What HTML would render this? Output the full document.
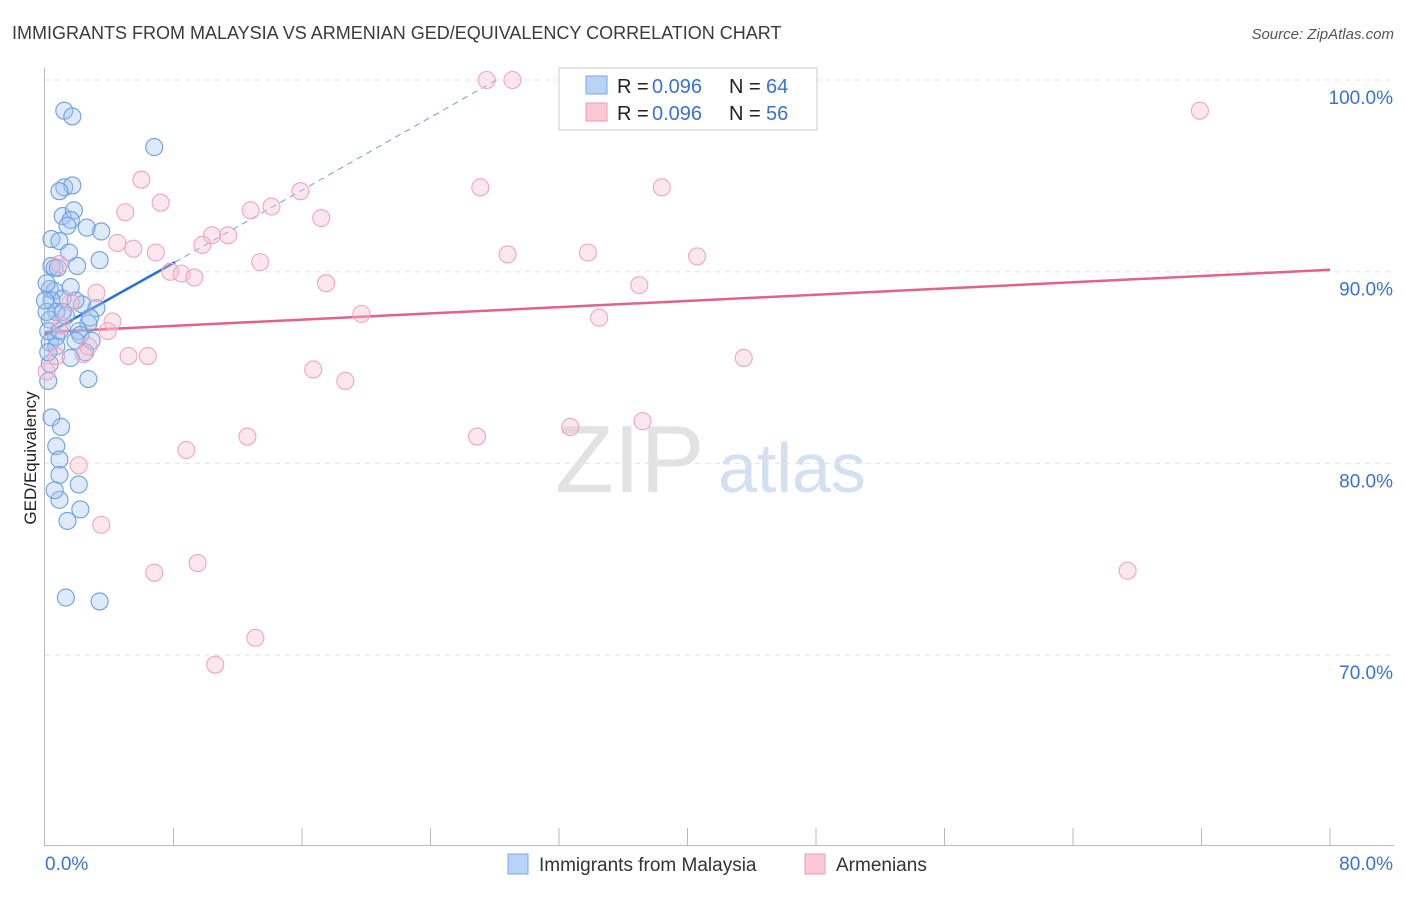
<!DOCTYPE html>
<html><head><meta charset="utf-8">
<style>
body{margin:0;background:#fff;font-family:"Liberation Sans",sans-serif;}
svg text{font-family:"Liberation Sans",sans-serif;}
</style></head>
<body>
<svg id="chart" width="1406" height="892">
<text x="12" y="39" font-size="18" fill="#3a3a3a">IMMIGRANTS FROM MALAYSIA VS ARMENIAN GED/EQUIVALENCY CORRELATION CHART</text>
<text x="1394" y="39" font-size="15" fill="#555" font-style="italic" text-anchor="end">Source: ZipAtlas.com</text>
<text x="36" y="458" font-size="17" fill="#222" text-anchor="middle" transform="rotate(-90 36 458)">GED/Equivalency</text>
<text x="555" y="492" font-size="96" fill="#e2e2e2" font-family="Liberation Serif">ZIP</text>
<text x="718" y="492" font-size="70" fill="#d2e0f2">atlas</text>
<g id="grid"></g><g id="axes"></g><g id="lines"></g><g id="pts"></g>
<g>
<rect x="559" y="68" width="258" height="62" fill="#fff" stroke="#ccc"/>
<rect x="586" y="76" width="21" height="18" fill="#b8d3f5" stroke="#7aa7e6"/>
<rect x="586" y="103" width="21" height="18" fill="#fbc9d6" stroke="#ee9ab0"/>
<text x="617" y="93" font-size="20" fill="#222">R = </text><text x="652" y="93" font-size="20" fill="#3b72d0">0.096</text>
<text x="729" y="93" font-size="20" fill="#222">N = </text><text x="766" y="93" font-size="20" fill="#3b72d0">64</text>
<text x="617" y="120" font-size="20" fill="#222">R = </text><text x="652" y="120" font-size="20" fill="#3b72d0">0.096</text>
<text x="729" y="120" font-size="20" fill="#222">N = </text><text x="766" y="120" font-size="20" fill="#3b72d0">56</text>
</g>
<g>
<rect x="508" y="854" width="20" height="20" fill="#b8d3f5" stroke="#7aa7e6"/>
<text x="539" y="871" font-size="19" fill="#333">Immigrants from Malaysia</text>
<rect x="805" y="854" width="20" height="20" fill="#fbc9d6" stroke="#ee9ab0"/>
<text x="836" y="871" font-size="19" fill="#333">Armenians</text>
</g>
</svg>
<script>
const blueX=[1.2,1.7,6.8,1.2,1.7,0.9,1.1,1.8,1.6,1.4,2.6,3.5,0.4,0.9,1.5,3.4,2.0,0.4,0.6,0.3,0.6,1.1,0.4,2.3,3.2,0.7,1.3,0.3,2.7,2.1,0.7,0.3,2.2,2.9,2.5,1.6,0.3,2.7,0.2,0.4,1.0,0.7,0.9,0.9,0.9,2.1,0.6,2.2,1.4,1.3,3.4,0.2,0.1,0.1,0.9,1.1,1.9,1.6,2.8,0.7,0.2,1.9,0.0,0.8];
const blueY=[98.4,98.1,96.5,94.4,94.5,94.2,92.9,93.2,92.7,92.4,92.3,92.1,91.7,91.6,91.0,90.6,90.3,90.3,90.2,89.1,89.0,88.6,88.5,88.3,88.1,87.9,87.7,87.5,87.3,86.9,86.6,86.3,86.7,86.4,85.8,85.5,85.2,84.4,84.3,82.4,81.9,80.9,80.2,79.4,78.1,78.9,78.6,77.6,77.0,73.0,72.8,86.9,87.9,89.4,86.9,87.9,88.5,89.2,87.6,86.1,85.8,86.4,88.5,90.2];
const pinkX=[27.5,29.1,71.9,6.0,27.1,38.4,7.2,15.9,5.0,12.8,14.1,17.2,11.4,10.4,4.5,5.5,9.8,6.9,28.8,33.8,40.6,13.4,0.9,7.8,8.5,9.3,17.5,37.0,3.2,1.6,19.7,34.5,4.2,3.9,1.0,2.7,5.2,6.4,43.5,2.4,16.7,18.7,0.1,0.7,12.6,8.8,26.9,32.7,37.2,2.1,3.5,6.8,9.5,67.4,13.1,10.6];
const pinkY=[100,100,98.4,94.8,94.4,94.4,93.6,94.2,93.1,93.2,93.4,92.8,91.9,91.9,91.5,91.2,91.4,91.0,90.9,91.0,90.8,90.5,90.4,90.0,89.9,89.7,89.4,89.3,88.9,88.4,87.8,87.6,87.4,86.9,87.2,86.1,85.6,85.6,85.5,85.7,84.9,84.3,84.8,85.6,81.4,80.7,81.4,81.9,82.2,79.9,76.8,74.3,74.8,74.4,70.9,69.5];
const blueLine=[[0,86.7],[8.1,90.5]], blueDash=[[8.1,90.5],[28.1,100]];
const pinkLine=[[0,86.85],[80,90.1]];
const yTicks=[100,90,80,70], yLabels=["100.0%","90.0%","80.0%","70.0%"];
const xs=v=>45+v/80*1285, ys=v=>80+(100-v)*19.17;
const NS="http://www.w3.org/2000/svg";
function mk(p,t,a){const e=document.createElementNS(NS,t);for(const k in a)e.setAttribute(k,a[k]);document.getElementById(p).appendChild(e);return e;}
yTicks.forEach((t,i)=>{
 const g=mk('grid','line',{x1:45,x2:1393,y1:ys(t),y2:ys(t),stroke:'#e3e3e3','stroke-dasharray':'5,5'});
 
 
 const l=mk('grid','text',{x:1393,y:ys(t)+24,'font-size':19,fill:'#3b72d0','text-anchor':'end'});
 l.textContent=yLabels[i];
 
 
});
const ax=mk('axes','line',{x1:44.5,x2:44.5,y1:68,y2:846,stroke:'#bbb'});


const bx=mk('axes','line',{x1:44,x2:1394,y1:845.5,y2:845.5,stroke:'#bbb'});


for(let i=1;i<=10;i++){const x=xs(i*8);const t=mk('axes','line',{x1:x,x2:x,y1:828,y2:846,stroke:'#bbb'});
 
 }
[[0,"0.0%",'start',45],[80,"80.0%",'end',1393]].forEach(d=>{const t=mk('axes','text',{x:d[3],y:870,'font-size':19,fill:'#3b72d0','text-anchor':d[2]});t.textContent=d[1];
 
 });
blueX.forEach((v,i)=>{const c=mk('pts','circle',{cx:xs(v),cy:ys(blueY[i]),r:8.5,fill:'rgba(160,196,240,0.35)',stroke:'#6d9fe0','stroke-width':1.1});
 
 });
pinkX.forEach((v,i)=>{const c=mk('pts','circle',{cx:xs(v),cy:ys(pinkY[i]),r:8.5,fill:'rgba(248,185,205,0.35)',stroke:'#efa5bb','stroke-width':1.1});
 
 });
const b1=mk('lines','line',{x1:xs(blueLine[0][0]),y1:ys(blueLine[0][1]),x2:xs(blueLine[1][0]),y2:ys(blueLine[1][1]),stroke:'#2a6fd6','stroke-width':2.5});


const b2=mk('lines','line',{x1:xs(blueDash[0][0]),y1:ys(blueDash[0][1]),x2:xs(blueDash[1][0]),y2:ys(blueDash[1][1]),stroke:'#6c9ce0','stroke-width':1,'stroke-dasharray':'6,5'});


const p1=mk('lines','line',{x1:xs(pinkLine[0][0]),y1:ys(pinkLine[0][1]),x2:xs(pinkLine[1][0]),y2:ys(pinkLine[1][1]),stroke:'#e2628e','stroke-width':2.5});


</script>
</body></html>
